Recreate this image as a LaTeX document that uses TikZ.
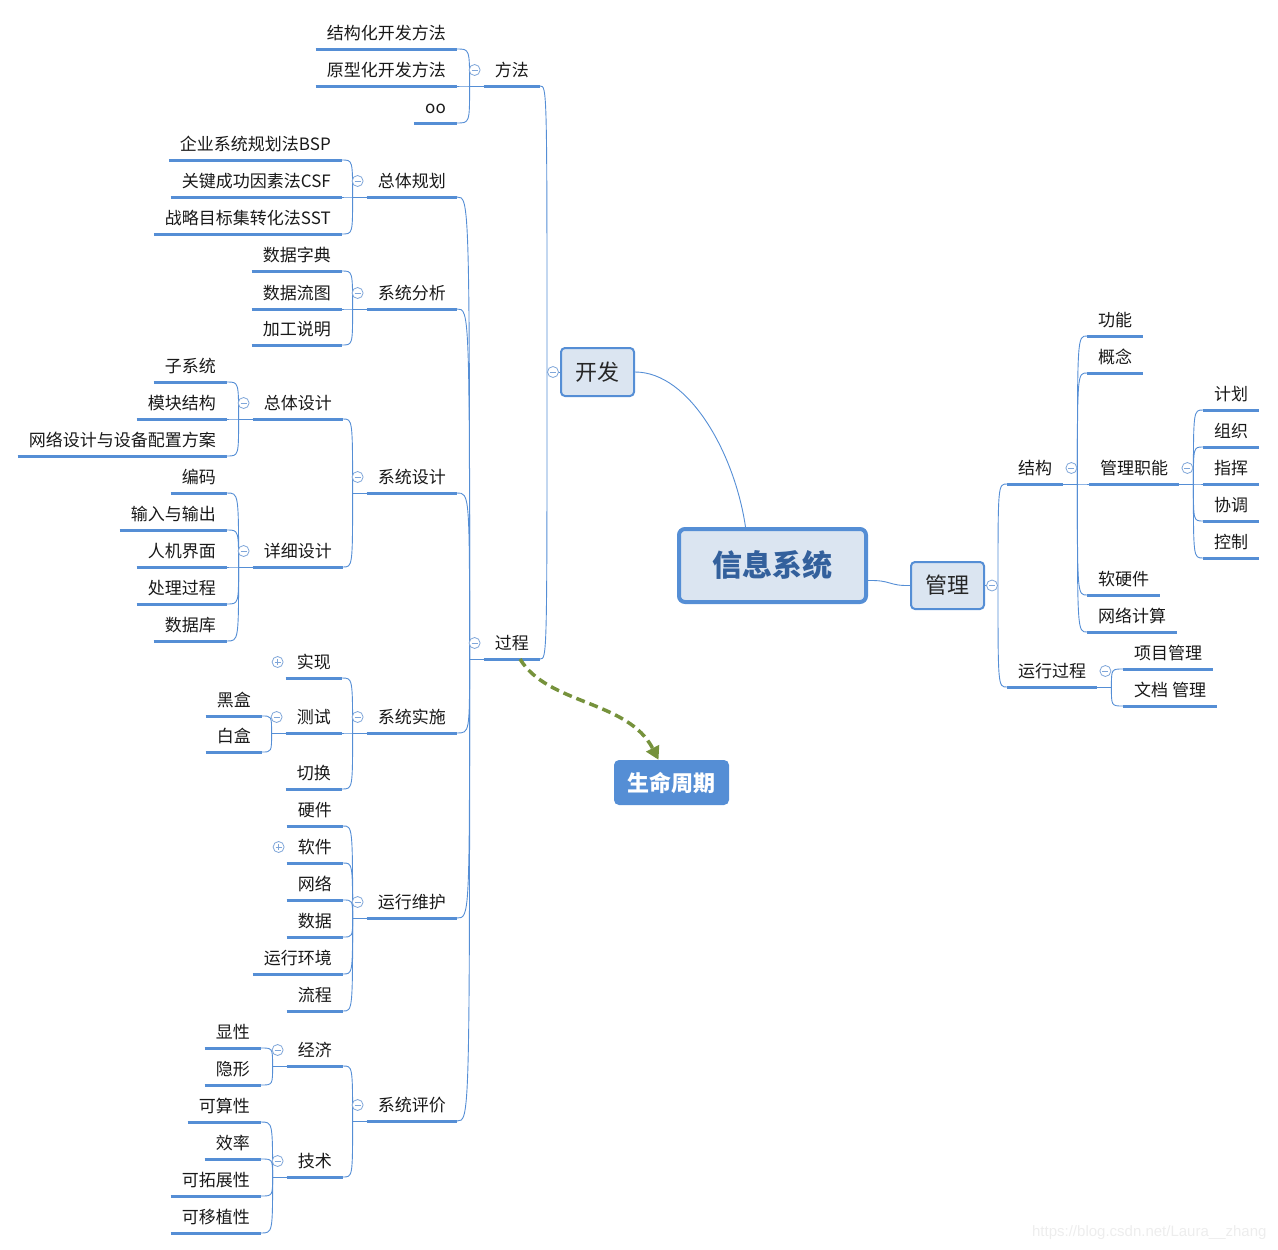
\documentclass[tikz,border=0pt]{standalone}
\usepackage{fontspec}
\setmainfont{Noto Sans CJK SC}
\newfontfamily\wmfont{Liberation Sans}
\usetikzlibrary{arrows.meta}

\definecolor{branch}{HTML}{558ED5}
\definecolor{togc}{HTML}{7FA6D9}
\definecolor{boxfill}{HTML}{DBE5F1}
\definecolor{roottext}{HTML}{33609C}
\definecolor{lifegreen}{HTML}{76923C}

\tikzset{
  topic/.style={inner xsep=11pt,inner ysep=5.5pt,text height=13pt,text depth=4pt,
    font=\fontsize{17}{20}\selectfont,text=black!90},
  lt/.style={topic,anchor=south east},
  rt/.style={topic,anchor=south west},
  uline/.style={draw=branch,line width=3pt},
  conn/.style={draw=branch,line width=0.9pt},
  tog/.style={circle,draw=togc,fill=white,line width=0.8pt,minimum size=11pt,inner sep=0pt,
    path picture={\draw[togc,line width=0.8pt]
      ([xshift=-3pt]path picture bounding box.center) -- ([xshift=3pt]path picture bounding box.center);}},
  togplus/.style={circle,draw=togc,fill=white,line width=0.8pt,minimum size=11pt,inner sep=0pt,
    path picture={\draw[togc,line width=0.8pt]
      ([xshift=-3pt]path picture bounding box.center) -- ([xshift=3pt]path picture bounding box.center)
      ([yshift=-3pt]path picture bounding box.center) -- ([yshift=3pt]path picture bounding box.center);}},
  bigbox/.style={draw=branch,fill=boxfill,rounded corners=4pt,line width=2pt,
    minimum width=73pt,minimum height=48pt,inner sep=0pt,font=\fontsize{22}{26}\selectfont,text=black!85},
}

\begin{document}
\begin{tikzpicture}[x=1pt,y=-1pt]
  \useasboundingbox (0,0) rectangle (1278,1250);

  % central topics
  \node[draw=branch,fill=boxfill,rounded corners=6pt,line width=4pt,minimum width=187pt,minimum height=73pt,
    font=\fontsize{30}{34}\selectfont\bfseries,text=roottext] (root) at (772.5,565.5) {信息系统};
  \node[bigbox] (kaifa) at (597.5,372) {开发};
  \node[bigbox,minimum height=47pt] (guanli) at (947.5,585.5) {管理};
  \node[fill=branch,rounded corners=5pt,minimum width=115pt,minimum height=45pt,inner sep=0pt,
    font=\fontsize{22}{26}\selectfont\bfseries,text=white] (life) at (671.5,782.5) {生命周期};

  % left side: development
  \node[lt] (fangfa) at (540,86) {方法};
  \node[lt] (guocheng) at (540,659) {过程};

  \node[lt] (jgh) at (457,49) {结构化开发方法};
  \node[lt] (yxh) at (457,86) {原型化开发方法};
  \node[lt] (oo) at (457,123) {oo};

  \node[lt] (ztgh) at (457,197) {总体规划};
  \node[lt] (xtfx) at (457,309) {系统分析};
  \node[lt] (xtsj) at (457,493) {系统设计};
  \node[lt] (xtss) at (457,733) {系统实施};
  \node[lt] (yxwh) at (457,918) {运行维护};
  \node[lt] (xtpj) at (457,1121) {系统评价};

  \node[lt] (bsp) at (342,160) {企业系统规划法BSP};
  \node[lt] (csf) at (342,197) {关键成功因素法CSF};
  \node[lt] (sst) at (342,234) {战略目标集转化法SST};

  \node[lt] (sjzd) at (342,271) {数据字典};
  \node[lt] (sjlt) at (342,309) {数据流图};
  \node[lt] (jgsm) at (342,345) {加工说明};

  \node[lt] (ztsj) at (343,419) {总体设计};
  \node[lt] (xxsj) at (343,567) {详细设计};
  \node[lt] (zxt) at (227,382) {子系统};
  \node[lt] (mkjg) at (227,419) {模块结构};
  \node[lt] (wlsj) at (227,456) {网络设计与设备配置方案};
  \node[lt] (bm) at (227,493) {编码};
  \node[lt] (srsc) at (227,530) {输入与输出};
  \node[lt] (rjjm) at (227,567) {人机界面};
  \node[lt] (clgc) at (227,604) {处理过程};
  \node[lt] (sjk) at (227,641) {数据库};

  \node[lt] (sx) at (342,678) {实现};
  \node[lt] (cs) at (342,733) {测试};
  \node[lt] (qh) at (342,789) {切换};
  \node[lt] (hh) at (262,716) {黑盒};
  \node[lt] (bh) at (262,752) {白盒};

  \node[lt] (yj) at (343,826) {硬件};
  \node[lt] (rj) at (343,863) {软件};
  \node[lt] (wl) at (343,900) {网络};
  \node[lt] (sj) at (343,937) {数据};
  \node[lt] (yxhj) at (343,974) {运行环境};
  \node[lt] (lc) at (343,1011) {流程};

  \node[lt] (jj) at (343,1066) {经济};
  \node[lt] (js) at (343,1177) {技术};
  \node[lt] (xx) at (261,1048) {显性};
  \node[lt] (yx) at (261,1085) {隐形};
  \node[lt] (kss) at (261,1122) {可算性};
  \node[lt] (xl) at (261,1159) {效率};
  \node[lt] (ktz) at (261,1196) {可拓展性};
  \node[lt] (kyz) at (261,1233) {可移植性};

  % right side: management
  \node[rt] (jg) at (1007,484) {结构};
  \node[rt] (yxgc) at (1007,687) {运行过程};
  \node[rt] (gn) at (1087,336) {功能};
  \node[rt] (gnian) at (1087,373) {概念};
  \node[rt] (glzn) at (1089,484) {管理职能};
  \node[rt] (ryj) at (1087,595) {软硬件};
  \node[rt] (wljs) at (1087,632) {网络计算};
  \node[rt] (jh) at (1203,410) {计划};
  \node[rt] (zz) at (1203,447) {组织};
  \node[rt] (zh) at (1203,484) {指挥};
  \node[rt] (xt) at (1203,521) {协调};
  \node[rt] (kz) at (1203,558) {控制};
  \node[rt] (xmgl) at (1123,669) {项目管理};
  \node[rt] (wdgl) at (1123,706) {文档 管理};

  % junctions
  \coordinate (kaifa-j) at ([xshift=-13pt]kaifa.west);
  \coordinate (guanli-j) at ([xshift=13pt]guanli.east);
  \foreach \p in {fangfa,guocheng,ztgh,xtfx,xtsj,ztsj,xxsj,xtss,cs,yxwh,xtpj,jj,js}
    \coordinate (\p-j) at ([xshift=-14pt]\p.south west);
  \foreach \p in {jg,glzn,yxgc}
    \coordinate (\p-j) at ([xshift=14pt]\p.south east);

  % connectors
  \draw[conn] (kaifa.east) .. controls (690,372) and (735,455) .. ([xshift=-27pt]root.north);
  \draw[conn] ([yshift=-15pt]root.east) .. controls (892,580) and (888,586) .. (guanli.west);
  \draw[conn] (kaifa-j) -- (kaifa.west);
  \draw[conn] (guanli.east) -- (guanli-j);
  \foreach \c in {fangfa,guocheng}
    \draw[conn] (\c.south east) .. controls (\c.south east -| kaifa-j) .. (kaifa-j);
  \foreach \c in {jg,yxgc}
    \draw[conn] (guanli-j) .. controls (\c.south west -| guanli-j) .. (\c.south west);

  \foreach \p/\kids in {fangfa/{jgh,yxh,oo},guocheng/{ztgh,xtfx,xtsj,xtss,yxwh,xtpj},
      ztgh/{bsp,csf,sst},xtfx/{sjzd,sjlt,jgsm},xtsj/{ztsj,xxsj},ztsj/{zxt,mkjg,wlsj},
      xxsj/{bm,srsc,rjjm,clgc,sjk},xtss/{sx,cs,qh},cs/{hh,bh},yxwh/{yj,rj,wl,sj,yxhj,lc},
      xtpj/{jj,js},jj/{xx,yx},js/{kss,xl,ktz,kyz}}{
    \draw[conn] (\p-j) -- (\p.south west);
    \foreach \c in \kids
      \draw[conn] (\c.south east) .. controls (\c.south east -| \p-j) .. (\p-j);
  }
  \foreach \p/\kids in {jg/{gn,gnian,glzn,ryj,wljs},glzn/{jh,zz,zh,xt,kz},yxgc/{xmgl,wdgl}}{
    \draw[conn] (\p.south east) -- (\p-j);
    \foreach \c in \kids
      \draw[conn] (\p-j) .. controls (\c.south west -| \p-j) .. (\c.south west);
  }

  % underlines
  \foreach \n in {fangfa,guocheng,jgh,yxh,oo,ztgh,xtfx,xtsj,xtss,yxwh,xtpj,bsp,csf,sst,
      sjzd,sjlt,jgsm,ztsj,xxsj,zxt,mkjg,wlsj,bm,srsc,rjjm,clgc,sjk,sx,cs,qh,hh,bh,
      yj,rj,wl,sj,yxhj,lc,jj,js,xx,yx,kss,xl,ktz,kyz,
      jg,yxgc,gn,gnian,glzn,ryj,wljs,jh,zz,zh,xt,kz,xmgl,wdgl}
    \draw[uline] (\n.south west) -- (\n.south east);

  % collapse marks
  \node[tog] at ([xshift=-7pt]kaifa.west) {};
  \node[tog] at ([xshift=7pt]guanli.east) {};
  \foreach \p in {fangfa,guocheng,ztgh,xtfx,xtsj,ztsj,xxsj,xtss,cs,yxwh,xtpj,jj,js}
    \node[tog] at ([xshift=-9pt,yshift=16pt]\p.south west) {};
  \foreach \p in {jg,glzn,yxgc}
    \node[tog] at ([xshift=8pt,yshift=16pt]\p.south east) {};
  \node[togplus] at ([xshift=-8pt,yshift=16pt]sx.south west) {};
  \node[togplus] at ([xshift=-8pt,yshift=16pt]rj.south west) {};

  % relation
  \draw[lifegreen,line width=3.5pt,dash pattern=on 9pt off 5pt,-{Triangle[length=13pt,width=14pt]}]
    ([xshift=-20pt]guocheng.south east) .. controls (548,705) and (628,700) .. ([xshift=-13pt]life.north);

  \node[anchor=base east,font=\wmfont\fontsize{15}{18}\selectfont,text=black!7] (wm) at (1270,1236)
    {https://blog.csdn.net/Laura\_\_zhang};
\end{tikzpicture}
\end{document}
